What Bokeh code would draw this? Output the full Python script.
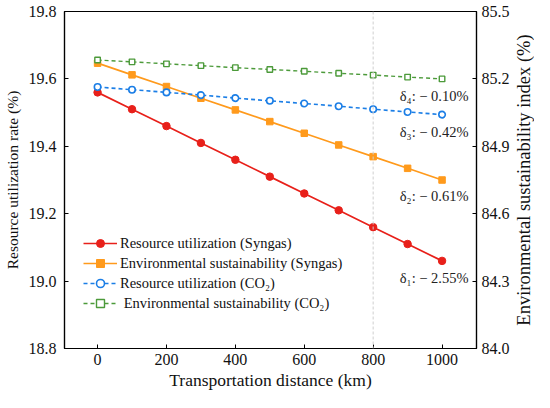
import math
from bokeh.plotting import figure
from bokeh.layouts import row
from bokeh.models import Range1d, LinearAxis, FixedTicker, Span, Legend, LegendItem
from bokeh.embed import file_html
from bokeh.resources import INLINE
from bokeh.core.properties import value

# ---- data ----
distance = [0, 100, 200, 300, 400, 500, 600, 700, 800, 900, 1000]
ru_syngas = [19.56, 19.51, 19.46, 19.41, 19.36, 19.31, 19.26, 19.21, 19.16, 19.11, 19.06]
es_syngas = [85.27, 85.218, 85.166, 85.114, 85.062, 85.01, 84.958, 84.906, 84.854, 84.802, 84.75]
ru_co2 = [19.576, 19.568, 19.560, 19.552, 19.543, 19.535, 19.527, 19.519, 19.510, 19.502, 19.494]
es_co2 = [85.284, 85.276, 85.267, 85.259, 85.250, 85.242, 85.234, 85.225, 85.217, 85.208, 85.200]

left_ticks = [18.8, 19.0, 19.2, 19.4, 19.6, 19.8]
right_ticks = [84.0, 84.3, 84.6, 84.9, 85.2, 85.5]
x_ticks = [0, 200, 400, 600, 800, 1000]

ann_x = [1077, 1077, 1077, 1077]
ann_y = [19.008, 19.252, 19.442, 19.549]
ann_text = ["δ₁: − 2.55%", "δ₂: − 0.61%", "δ₃: − 0.42%", "δ₄: − 0.10%"]

right_title = ["Environmental sustainability index (%)"]

FONT = "Liberation Serif"
RED = "#e8201a"
ORANGE = "#ff9a1c"
BLUE = "#1b7ee6"
GREEN = "#4c9a3a"
TXT = "#111111"

p = figure(width=512, height=392, output_backend="svg", toolbar_location=None,
           x_range=Range1d(-96, 1100), y_range=Range1d(18.8, 19.8),
           min_border_left=63, min_border_right=33, min_border_top=11, min_border_bottom=44)
p.extra_y_ranges = {"right": Range1d(84.0, 85.5)}

p.xgrid.visible = False
p.ygrid.visible = False
p.outline_line_color = "black"
p.outline_line_width = 1.2

p.add_layout(Span(location=800, dimension="height", line_color="#cfcfcf",
                  line_dash="3 2", line_width=1))

r1l = p.line(distance, ru_syngas, line_color=RED, line_width=1.7)
r1m = p.scatter(distance, ru_syngas, marker="circle", size=7.5, fill_color=RED, line_color=RED)
r2l = p.line(distance, es_syngas, line_color=ORANGE, line_width=1.7, y_range_name="right")
r2m = p.scatter(distance, es_syngas, marker="square", size=6.5, fill_color=ORANGE, line_color=ORANGE,
                y_range_name="right")
r3l = p.line(distance, ru_co2, line_color=BLUE, line_width=1.6, line_dash="4 3")
r3m = p.scatter(distance, ru_co2, marker="circle", size=6.5, fill_color="white", line_color=BLUE,
                line_width=1.6)
r4l = p.line(distance, es_co2, line_color=GREEN, line_width=1.4, line_dash="4 3", y_range_name="right")
r4m = p.scatter(distance, es_co2, marker="square", size=5.5, fill_color="white", line_color=GREEN,
                line_width=1.4, y_range_name="right")

p.text(ann_x, ann_y, text=ann_text, text_font=value(FONT), text_font_size="14.5px",
       text_align="right", text_baseline="middle", text_color="#222222")

right_axis = LinearAxis(y_range_name="right")
p.add_layout(right_axis, "right")

for ax in [p.xaxis[0], p.yaxis[0], right_axis]:
    ax.major_tick_in = 4
    ax.major_tick_out = 0
    ax.minor_tick_line_color = None
    ax.axis_line_color = "black"
    ax.axis_line_width = 1.2
    ax.major_tick_line_color = "black"
    ax.major_label_text_font = FONT
    ax.major_label_text_font_size = "16px"
    ax.major_label_text_color = TXT
    ax.axis_label_text_font = FONT
    ax.axis_label_text_font_style = "normal"
    ax.axis_label_text_color = TXT

p.yaxis[0].major_label_standoff = 8
right_axis.major_label_standoff = 5
p.xaxis[0].major_label_standoff = 5

p.xaxis[0].ticker = FixedTicker(ticks=x_ticks)
p.yaxis[0].ticker = FixedTicker(ticks=left_ticks)
right_axis.ticker = FixedTicker(ticks=right_ticks)
p.yaxis[0].major_label_overrides = {t: f"{t:.1f}" for t in left_ticks}
right_axis.major_label_overrides = {t: f"{t:.1f}" for t in right_ticks}

p.xaxis[0].axis_label = "Transportation distance (km)"
p.xaxis[0].axis_label_text_font_size = "17.5px"
p.xaxis[0].axis_label_standoff = 2

p.yaxis[0].axis_label = "Resource utilization rate (%)"
p.yaxis[0].axis_label_text_font_size = "15.5px"
p.yaxis[0].axis_label_standoff = 5

legend = Legend(items=[
    LegendItem(label="Resource utilization (Syngas)", renderers=[r1l, r1m]),
    LegendItem(label="Environmental sustainability (Syngas)", renderers=[r2l, r2m]),
    LegendItem(label="Resource utilization (CO₂)", renderers=[r3l, r3m]),
    LegendItem(label=" Environmental sustainability (CO₂)", renderers=[r4l, r4m]),
], location=(19, 35))
legend.label_text_font = FONT
legend.label_text_font_size = "14.5px"
legend.label_text_color = TXT
legend.border_line_color = None
legend.background_fill_alpha = 0
legend.padding = 0
legend.margin = 0
legend.spacing = 0
legend.glyph_width = 34
legend.glyph_height = 20
legend.label_height = 20
legend.label_standoff = 3
p.add_layout(legend)

# narrow side panel holding the right-hand axis title, reading bottom-to-top
side = figure(width=22, height=392, output_backend="svg", toolbar_location=None,
              x_range=Range1d(0, 22), y_range=Range1d(0, 392),
              x_axis_type=None, y_axis_type=None, min_border=0)
side.outline_line_color = None
side.xgrid.visible = False
side.ygrid.visible = False
side.text([11], [196], text=right_title, angle=math.pi / 2, text_font=value(FONT),
          text_font_size="18.5px", text_align="center", text_baseline="middle", text_color=TXT)

layout = row(p, side, spacing=0)
open("out.html", "w").write(file_html(layout, INLINE))
